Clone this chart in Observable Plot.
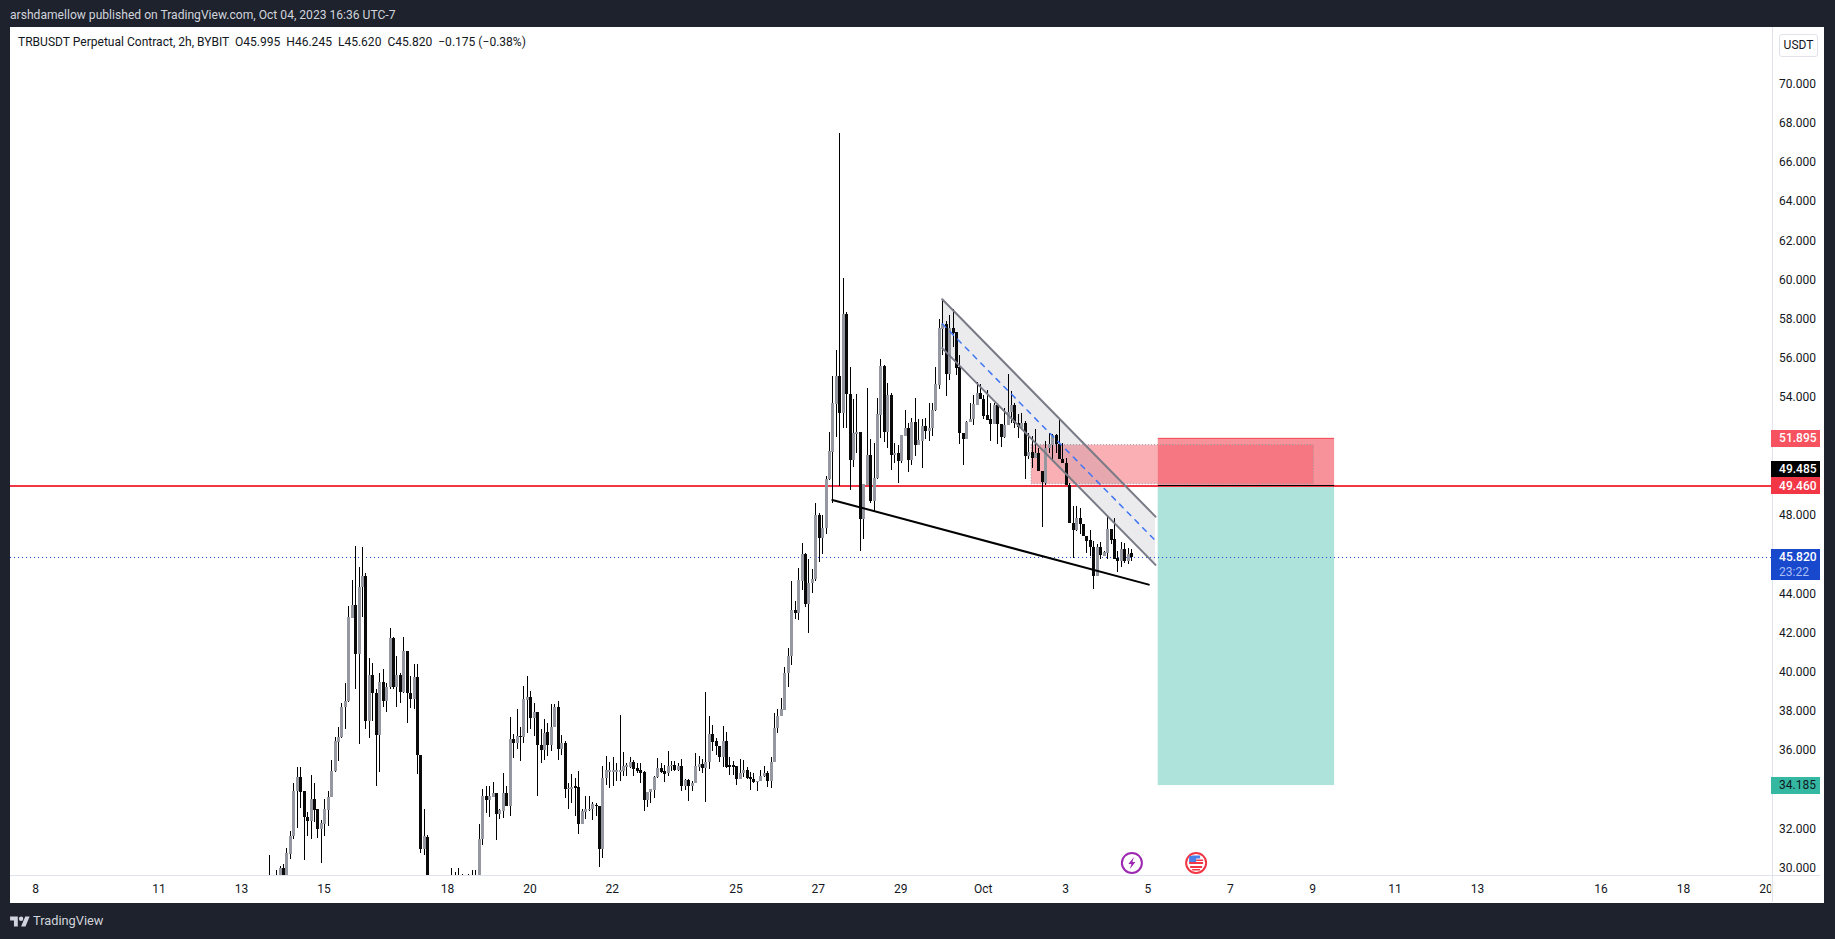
<!DOCTYPE html>
<html><head><meta charset="utf-8">
<script src="https://cdn.jsdelivr.net/npm/d3@7"></script>
<script src="https://cdn.jsdelivr.net/npm/@observablehq/plot@0.6"></script>
<style>
html,body{margin:0;padding:0;background:#1e222d;width:1835px;height:939px;overflow:hidden;font-family:Roboto,sans-serif}
.a{position:absolute;white-space:pre}
#chart{position:absolute;left:0;top:0}
</style></head><body>
<div class="a" style="left:10px;top:27px;width:1814px;height:876px;background:#fff"></div>
<div class="a" style="left:10px;top:8px;font-size:12.1px;line-height:14px;color:#d1d4dc">arshdamellow published on TradingView.com, Oct 04, 2023 16:36 UTC-7</div>
<div id="chart"></div>
<div class="a" style="left:18px;top:35px;font-size:12.06px;line-height:14px;color:#131722">TRBUSDT Perpetual Contract, 2h, BYBIT  O45.995  H46.245  L45.620  C45.820  −0.175 (−0.38%)</div>
<div class="a" style="left:1779px;top:34px;width:39px;height:23px;box-sizing:border-box;border:1px solid #e0e3eb;border-radius:3px;font-size:12px;line-height:21px;text-align:center;color:#131722">USDT</div>
<svg class="a" style="left:10px;top:916px" width="20" height="11" viewBox="0 3 36 20"><path fill="#d1d4dc" d="M14 22H7V11H0V4h14v18zM28 22h-8l7.5-18h8L28 22z"/><circle fill="#d1d4dc" cx="20" cy="8" r="4"/></svg>
<div class="a" style="left:33px;top:912px;font-size:12.8px;line-height:18px;color:#d1d4dc">TradingView</div>
<script>
const open=[28.9,29.2,29.0,29.4,29.98,29.4,30.66,31.58,33.86,34.57,33.86,32.57,32.33,33.45,32.94,31.95,32.19,32.91,33.59,34.89,36.37,36.65,38.18,38.48,42.72,43.39,40.86,44.30,44.87,37.45,39.82,38.89,36.73,39.45,38.47,39.2,41.66,39.18,39.82,38.92,41.0,38.89,38.55,39.67,35.73,30.9,31.56,
28.9,29.0,28.8,28.9,29.1,28.9,29.1,29.3,29.0,29.2,29.1,29.0,29.2,29.1,29.1,31.44,33.65,33.42,33.59,33.79,32.69,32.86,33.76,33.14,36.51,36.31,36.71,36.63,38.52,38.65,37.6,37.89,36.25,35.97,36.88,
36.22,37.16,38.14,36.0,36.34,33.96,33.96,34.11,34.11,32.18,32.8,32.9,32.94,33.18,33.14,30.9,34.56,34.88,34.88,34.88,34.88,34.88,35.13,35.13,35.34,35.03,34.95,34.83,33.4,33.82,33.91,34.59,35.03,34.88,34.78,35.15,35.23,34.95,35.18,34.13,34.42,34.13,34.27,35.13,35.27,35.03,35.35,36.8,36.41,36.2,35.59,36.41,35.18,35.18,35.18,34.47,34.81,34.93,34.59,34.5,34.33,34.4,34.64,34.81,34.38,35.37,37.1,37.7,38.0,39.91,40.76,43.09,42.94,44.58,45.95,43.41,44.5,44.67,47.93,46.78,47.3,49.77,51.16,53.63,55.04,53.14,58.18,54.14,50.76,52.07,52.2,47.73,49.46,51.0,48.67,49.85,53.05,55.53,52.18,54.05,51.0,51.1,50.71,51.98,52.4,50.76,52.71,51.52,51.72,52.47,52.24,52.39,53.29,54.61,
57.42,57.67,55.17,57.5,57.31,55.52,52.15,51.81,52.69,52.83,53.54,54.16,53.88,53.03,52.83,52.59,53.54,52.61,51.93,52.52,53.2,53.56,52.66,52.4,52.66,50.96,51.18,50.84,51.13,50.2,49.6,51.35,51.5,52.03,51.59,50.82,50.62,49.51,47.56,47.17,47.82,47.5,46.91,46.66,46.34,44.84,46.32,45.89,46.03,47.22,46.71,45.76,45.6,46.2,45.6,45.995];
const high=[30.6,29.4,29.85,30.05,30.17,30.98,31.82,34.27,35.08,35.08,33.86,32.80,34.72,34.27,32.94,32.40,33.48,33.86,35.44,36.65,37.12,38.38,39.37,43.34,44.62,46.40,45.28,46.34,44.98,40.68,40.39,39.06,39.91,40.08,39.37,42.17,41.71,40.79,39.88,41.75,41.03,39.74,40.37,40.34,35.73,32.97,31.66,
29.3,29.4,29.2,29.3,29.4,29.4,29.97,29.74,29.98,29.63,29.5,29.63,29.85,29.85,32.18,33.99,34.13,34.16,34.35,33.79,32.94,34.78,34.13,37.63,36.77,38.04,37.16,39.23,39.77,38.99,38.38,37.89,37.02,37.53,37.36,
38.3,38.3,38.45,36.76,36.42,34.3,34.73,34.55,34.88,32.94,33.65,33.62,33.31,33.28,33.14,35.15,35.68,35.35,35.63,35.29,37.77,35.88,35.29,35.63,35.46,35.29,35.32,34.88,33.85,33.96,34.67,35.54,35.32,35.23,35.93,35.4,35.39,35.29,35.49,34.5,34.47,34.38,35.8,35.69,35.52,38.91,37.73,37.26,36.6,36.2,37.19,36.88,35.63,35.4,35.18,35.49,35.46,35.12,34.84,34.81,34.4,34.93,35.18,34.9,35.63,37.87,38.07,38.64,40.22,41.18,44.58,43.57,45.27,46.51,46.03,45.72,45.18,48.58,48.04,47.98,49.94,52.2,55.04,56.37,67.41,60.02,58.3,55.52,53.85,54.14,52.2,49.52,54.44,51.84,51.64,53.93,55.89,55.58,54.67,54.16,51.64,51.5,52.01,53.29,52.66,52.92,53.93,52.83,52.86,52.9,53.68,53.68,55.5,57.96,
58.95,57.83,58.14,58.44,57.31,56.09,52.15,52.75,53.68,54.1,54.75,54.62,54.1,54.31,53.68,53.68,53.6,52.61,53.42,55.13,54.27,53.68,53.09,53.17,52.75,52.15,51.98,52.32,51.39,50.2,51.73,52.15,52.08,52.08,52.91,51.64,50.87,49.6,48.41,48.41,48.33,47.5,46.91,47.19,46.63,46.5,46.57,46.1,47.93,47.22,47.82,46.1,46.59,46.53,46.29,46.245];
const low=[28.6,28.8,28.8,29.0,29.1,29.2,30.39,31.41,31.99,33.04,30.36,31.61,31.41,32.29,31.48,30.22,31.61,32.09,33.59,34.84,35.40,36.6,37.02,38.41,42.72,39.06,36.27,42.77,37.05,36.58,37.45,34.13,34.84,38.18,37.9,39.09,39.06,38.16,38.35,38.89,37.36,38.13,38.04,34.74,30.7,30.63,28.6,
28.5,28.6,28.4,28.5,28.7,28.6,28.8,28.9,28.8,28.9,28.8,28.8,28.9,28.9,28.9,31.15,32.77,32.57,33.59,31.38,32.46,32.5,33.14,32.63,35.56,36.0,35.4,36.34,36.85,37.02,36.68,33.62,35.32,35.46,35.66,
35.9,37.12,35.46,35.74,33.54,32.94,33.28,32.6,31.67,32.18,32.43,32.85,32.4,32.6,30.0,30.46,34.2,34.04,34.13,34.39,34.39,34.64,34.67,35.06,34.67,34.78,34.27,32.84,33.06,33.28,33.52,34.55,34.78,34.33,34.67,34.9,34.9,34.88,33.87,33.93,33.35,33.89,34.27,34.9,34.81,33.31,34.98,35.91,35.74,35.35,35.12,35.06,34.72,34.72,34.18,34.47,34.61,34.47,33.93,34.3,33.86,34.37,34.61,34.08,34.01,35.35,36.85,37.7,38.0,39.18,40.3,42.66,42.6,44.13,43.26,41.92,43.99,44.58,45.55,45.95,47.0,49.73,48.55,51.93,49.43,52.4,52.4,49.23,50.42,51.13,46.11,46.74,49.46,48.58,48.16,49.8,51.9,51.67,51.38,50.25,50.59,49.6,50.59,51.98,50.16,50.5,50.96,51.52,50.37,51.81,51.72,51.98,53.27,54.36,
56.09,54.02,54.84,56.5,55.07,51.6,50.5,51.81,52.69,52.57,53.54,53.88,52.83,52.8,51.73,52.59,51.56,51.44,51.9,52.52,52.66,52.4,51.9,52.32,49.77,50.79,50.37,50.84,50.2,47.34,49.51,51.13,50.76,51.13,50.79,50.62,49.48,47.53,45.78,47.15,46.97,46.88,46.03,45.86,44.16,44.84,45.69,45.86,45.69,46.5,45.72,45.04,45.32,45.49,45.47,45.62];
const close=[29.2,29.0,29.4,29.98,29.3,30.70,31.61,33.86,34.57,33.82,32.57,32.33,33.45,32.91,31.95,32.23,32.94,33.59,34.91,36.41,36.65,38.19,38.48,42.73,43.39,40.86,44.30,44.87,37.45,39.82,38.89,36.73,39.45,38.47,39.2,41.66,39.18,39.82,38.92,41.0,38.89,38.58,39.67,35.71,30.9,31.58,28.9,
29.0,28.8,28.9,29.1,28.9,29.1,29.3,29.0,29.2,29.1,29.0,29.2,29.1,29.1,31.44,33.65,33.42,33.62,33.79,32.72,32.89,33.76,33.14,36.51,36.31,36.71,36.63,38.55,38.65,37.6,37.89,36.22,35.97,36.85,36.22,
37.16,38.14,36.0,36.34,33.96,34.03,34.11,34.06,32.18,32.85,32.94,32.97,33.2,33.11,30.9,34.56,34.93,34.93,34.93,34.91,34.91,35.18,35.18,35.34,35.0,34.91,34.78,33.4,33.82,33.96,34.62,35.03,34.83,34.74,35.18,35.23,34.95,35.18,34.13,34.42,34.13,34.3,35.18,35.27,35.03,35.35,36.8,36.37,36.17,35.59,36.41,35.13,35.13,35.15,34.47,34.81,34.93,34.56,34.5,34.33,34.4,34.67,34.81,34.38,35.37,37.1,37.73,38.04,39.91,40.79,43.09,42.94,44.62,45.95,43.41,44.5,44.7,47.93,46.78,47.3,49.77,51.2,53.65,55.04,53.14,58.18,54.12,50.76,52.12,52.2,47.73,49.52,51.0,48.67,49.85,53.09,55.53,52.18,54.05,51.01,51.1,50.71,52.01,52.4,50.76,52.71,51.52,51.76,52.47,52.24,52.39,53.29,54.65,57.47,
57.67,55.17,57.5,57.25,55.47,52.12,51.81,52.71,52.86,53.6,54.16,53.88,53.0,52.8,52.59,53.54,52.59,51.93,52.57,53.2,53.56,52.66,52.44,52.66,50.96,51.18,50.84,51.13,50.2,49.63,51.39,51.56,52.03,51.56,50.79,50.62,49.48,47.53,47.17,47.82,47.49,46.88,46.62,46.32,44.84,46.32,45.91,46.06,47.22,46.68,45.72,45.6,46.2,45.6,45.98,45.82];

const firstBar="2023-09-13T16:30Z";
const tickDates=["2023-09-08","2023-09-11","2023-09-13","2023-09-15","2023-09-18","2023-09-20","2023-09-22","2023-09-25","2023-09-27","2023-09-29","2023-10-01","2023-10-03","2023-10-05","2023-10-07","2023-10-09","2023-10-11","2023-10-13","2023-10-16","2023-10-18","2023-10-20"];
const tickLabels=["8","11","13","15","18","20","22","25","27","29","Oct","3","5","7","9","11","13","16","18","20"];
const priceTicks=[30,32,36,38,40,42,44,48,54,56,58,60,62,64,66,68,70];
const xDomain=["2023-09-07T09:26Z","2023-10-20T03:36Z"];
const yDomain=[29.547,72.84];

const entry=49.46, stop=51.895, target=34.185, lastPrice=45.82;
const boxT=["2023-10-05T06:00Z","2023-10-09T12:45Z"];
const zoneT=["2023-10-02T04:12Z","2023-10-05T06:00Z","2023-10-09T00:40Z"];
const zoneP=[49.55,51.54];
const chT=["2023-09-30T00:10Z","2023-10-05T04:25Z"];
const chTop=[58.98,47.9];
const chBot=[56.49,45.44];
const supT=["2023-09-27T08:10Z","2023-10-05T00:30Z"];
const supP=[48.75,44.43];
const tagT=["2023-10-20T03:20Z","2023-10-21T07:48Z"];
const eventT=["2023-10-04T14:40Z","2023-10-06T04:05Z"];
const eventP=30.24;

const D=s=>new Date(s);
const t0=+D(firstBar);
const bars=open.map((o,i)=>{
  const lo=Math.min(o,close[i]),hi=Math.max(o,close[i]),m=(lo+hi)/2,thin=hi-lo<0.07;
  return {t:new Date(t0+i*72e5),o,h:high[i],l:low[i],c:close[i],b1:thin?m-0.035:lo,b2:thin?m+0.035:hi,
    col:close[i]>=o?"#9598a1":"#0a0a0a"};
});
const labelOf=new Map(tickDates.map((s,i)=>[+D(s),tickLabels[i]]));
const channel=chT.map((s,i)=>({t:D(s),top:chTop[i],bot:chBot[i],mid:(chTop[i]+chBot[i])/2}));
const support=supT.map((s,i)=>({t:D(s),p:supP[i]}));
const zone=[{x1:D(zoneT[0]),x2:D(zoneT[1]),f:"rgba(242,54,69,0.40)"},{x1:D(zoneT[1]),x2:D(zoneT[2]),f:"rgba(242,54,69,0.29)"}];

const bolt={draw(c){c.moveTo(2,-6);c.lineTo(-3.5,1);c.lineTo(-0.5,1);c.lineTo(-2,6);c.lineTo(3.5,-1);c.lineTo(0.5,-1);c.closePath();}};
const stripes={draw(c){c.rect(-7,-1,14,2);c.rect(-6,3,12,2);c.rect(-4,6,8,1.5);c.rect(0,-3.5,7,1.5);}};
const canton={draw(c){c.rect(-7,-7,7,6);c.rect(-4,-7.5,8,3);}};
function tagRule(v,col,w,dy){return Plot.ruleY([v],{x1:D(tagT[0]),x2:D(tagT[1]),stroke:col,strokeWidth:w,dy:dy||0,shapeRendering:"crispEdges"});}
function tagText(v,txt,col,dy,weight){return Plot.text([v],{y:d=>d,frameAnchor:"right",textAnchor:"start",dx:7,dy:dy||0,text:()=>txt,fill:col,fontSize:12,fontWeight:weight||"normal"});}

const chart=Plot.plot({
  width:1835,height:939,marginLeft:10,marginRight:63.4,marginTop:27,marginBottom:63,
  style:{background:"transparent",fontFamily:"Roboto,sans-serif",fontSize:"12px",color:"#131722"},
  x:{type:"utc",domain:xDomain.map(D)},
  y:{domain:yDomain},
  marks:[
    Plot.rect([0],{x1:D(boxT[0]),x2:D(boxT[1]),y1:target,y2:entry,fill:"#aee3db"}),
    Plot.rect([0],{x1:D(boxT[0]),x2:D(boxT[1]),y1:entry,y2:stop,fill:"rgba(242,54,69,0.54)"}),
    Plot.rect(zone,{x1:"x1",x2:"x2",y1:zoneP[0],y2:zoneP[1],fill:"f"}),
    Plot.rect([0],{x1:D(zoneT[0]),x2:D(zoneT[2]),y1:zoneP[0],y2:zoneP[1],fill:"none",stroke:"#9598a1",strokeDasharray:"1,2"}),
    Plot.areaY(channel,{x:"t",y1:"top",y2:"bot",fill:"rgba(120,123,134,0.15)"}),
    Plot.ruleY([lastPrice],{stroke:"#1848cc",strokeDasharray:"1,3",shapeRendering:"crispEdges"}),
    Plot.ruleY([entry],{stroke:"#f23645",strokeWidth:2,shapeRendering:"crispEdges"}),
    Plot.ruleX(bars,{x:"t",y1:"l",y2:"h",stroke:"#000",strokeWidth:1,clip:true,shapeRendering:"crispEdges"}),
    Plot.ruleX(bars,{x:"t",y1:"b1",y2:"b2",stroke:"col",strokeWidth:3,clip:true,shapeRendering:"crispEdges"}),
    Plot.line(channel,{x:"t",y:"top",stroke:"#787b86",strokeWidth:2}),
    Plot.line(channel,{x:"t",y:"bot",stroke:"#787b86",strokeWidth:2}),
    Plot.line(channel,{x:"t",y:"mid",stroke:"#3f74f2",strokeWidth:1.5,strokeDasharray:"5,6"}),
    Plot.line(support,{x:"t",y:"p",stroke:"#000",strokeWidth:2}),
    Plot.ruleY([stop],{x1:D(boxT[0]),x2:D(boxT[1]),stroke:"#f7525f",strokeWidth:1,shapeRendering:"crispEdges"}),
    Plot.ruleY([entry],{x1:D(boxT[0]),x2:D(boxT[1]),stroke:"#000",strokeWidth:1,shapeRendering:"crispEdges"}),
    Plot.axisX({ticks:tickDates.map(D),tickFormat:d=>labelOf.get(+d),tickSize:0,tickPadding:8,label:null,fontSize:12}),
    Plot.rect([0],{x1:D(tagT[0]),x2:D(tagT[1]),y1:28.2,y2:29.5,fill:"#fff"}),
    Plot.axisY(priceTicks,{anchor:"right",tickSize:0,tickPadding:7,tickFormat:d3.format(".3f"),label:null,fontSize:12,dy:0.6}),
    Plot.ruleY([yDomain[0]],{x2:D(tagT[1]),x1:D(xDomain[0]),stroke:"#e0e3eb",shapeRendering:"crispEdges",dy:-1}),
    Plot.ruleX([D(xDomain[1])],{y1:yDomain[1],y2:28.2,stroke:"#e0e3eb",shapeRendering:"crispEdges"}),
    tagRule(stop,"#f7525f",17), tagText(stop,"51.895","#fff",0,"500"),
    tagRule(49.485,"#000",17,-16), tagText(49.485,"49.485","#fff",-16,"500"),
    tagRule(entry,"#f23645",17), tagText(entry,"49.460","#fff",0,"500"),
    tagRule(lastPrice,"#1848cc",31,7), tagText(lastPrice,"45.820","#fff",0,"500"), tagText(lastPrice,"23:22","#a9bef5",14.5),
    tagRule(target,"#35b8a2",17), tagText(target,"34.185","#131722",0),
    Plot.dot([eventT[0]],{x:d=>D(d),y:()=>eventP,r:10,stroke:"#9c27b0",strokeWidth:2,fill:"#fff"}),
    Plot.dot([eventT[0]],{x:d=>D(d),y:()=>eventP,symbol:bolt,fill:"#9c27b0"}),
    Plot.dot([eventT[1]],{x:d=>D(d),y:()=>eventP,r:10,stroke:"#f23645",strokeWidth:2,fill:"#fff"}),
    Plot.dot([eventT[1]],{x:d=>D(d),y:()=>eventP,symbol:stripes,fill:"#f23645"}),
    Plot.dot([eventT[1]],{x:d=>D(d),y:()=>eventP,symbol:canton,fill:"#4a7fe8"})
  ]
});
document.getElementById("chart").appendChild(chart);
</script>
</body></html>
